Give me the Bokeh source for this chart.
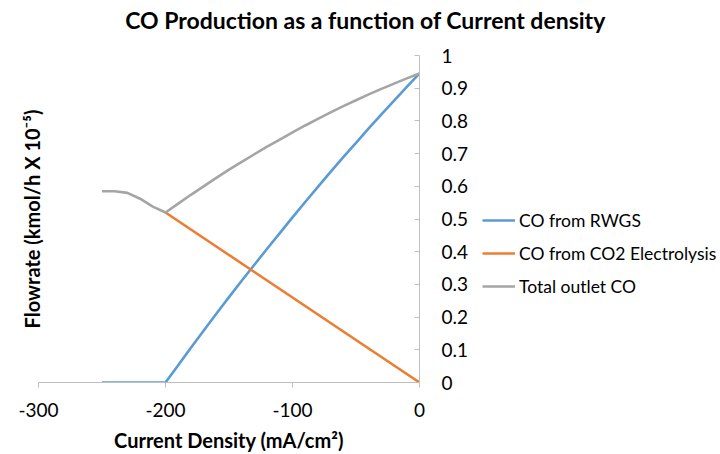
from bokeh.plotting import figure
from bokeh.layouts import column, row
from bokeh.models import (LinearAxis, FixedTicker, CustomJSTickFormatter, Legend,
                          LegendItem, Range1d, Label)
from bokeh.embed import file_html
from bokeh.resources import INLINE

# ---- data ----
current_density = [-250, -240, -230, -220, -210, -200, -190, -180, -170, -160, -150,
                   -140, -130, -120, -110, -100, -90, -80, -70, -60, -50, -40,
                   -30, -20, -10, 0]
co_rwgs = [0, 0, 0, 0, 0, 0, 0.053, 0.106, 0.158, 0.210, 0.261, 0.311, 0.360,
           0.409, 0.457, 0.505, 0.552, 0.598, 0.644, 0.689, 0.733, 0.777, 0.820,
           0.862, 0.904, 0.945]
electro_x = [-200, -190, -180, -170, -160, -150, -140, -130, -120, -110, -100,
             -90, -80, -70, -60, -50, -40, -30, -20, -10, 0]
co_electrolysis = [0.520, 0.494, 0.468, 0.442, 0.416, 0.390, 0.364, 0.338, 0.312,
                   0.286, 0.260, 0.234, 0.208, 0.182, 0.156, 0.130, 0.104, 0.078,
                   0.052, 0.026, 0.0]
co_total = [0.585, 0.585, 0.580, 0.562, 0.538, 0.520, 0.547, 0.574, 0.600, 0.626,
            0.651, 0.675, 0.698, 0.721, 0.743, 0.765, 0.786, 0.806, 0.826, 0.845,
            0.863, 0.881, 0.898, 0.914, 0.930, 0.945]
x_ticks = [-300, -200, -100, 0]
y_ticks = [0, 0.1, 0.2, 0.3, 0.4, 0.5, 0.6, 0.7, 0.8, 0.9, 1.0]
series_names = ["CO from RWGS", "CO from CO2 Electrolysis", "Total outlet CO"]
colors = ["#5B9BD5", "#ED7D31", "#A5A5A5"]
title_text = "CO Production as a function of Current density"

FONT = "Lato"
TXT = "#000000"
AX = "#BFBFBF"
LW = 2.6
TITLE_H = 45
MAIN_W = 471
MAIN_H = 454 - TITLE_H

# ---- title strip ----
tf = figure(width=720, height=TITLE_H, output_backend="svg", toolbar_location=None,
            x_range=Range1d(0, 1), y_range=Range1d(0, 1),
            x_axis_location=None, y_axis_location=None, min_border=0)
tf.outline_line_color = None
tf.grid.visible = False
tf.add_layout(Label(x=365, y=26, x_units="screen", y_units="screen", text=title_text,
                    text_font=FONT, text_font_size="23px", text_font_style="bold",
                    text_color=TXT, text_align="center", text_baseline="middle"))

# ---- main chart ----
p = figure(width=MAIN_W, height=MAIN_H, output_backend="svg", toolbar_location=None,
           x_range=Range1d(-300, 0), y_range=Range1d(0, 1),
           y_axis_location="right", min_border_left=38, min_border_top=10,
           min_border_right=MAIN_W - 38 - 381, min_border_bottom=69)
p.outline_line_color = None
p.grid.visible = False

series = [(current_density, co_rwgs), (electro_x, co_electrolysis),
          (current_density, co_total)]
for (xs, ys), c in zip(series, colors):
    p.line(xs, ys, line_color=c, line_width=LW)

xa = p.xaxis[0]
xa.ticker = FixedTicker(ticks=x_ticks)
xa.formatter = CustomJSTickFormatter(code="return String(tick)")
xa.axis_line_color = AX
xa.major_tick_line_color = AX
xa.major_tick_out = 5
xa.major_tick_in = 0
xa.minor_tick_line_color = None
xa.major_label_text_font = FONT
xa.major_label_text_font_size = "19px"
xa.major_label_text_color = TXT
xa.major_label_standoff = 15
xa.axis_label = "Current Density (mA/cm²)"
xa.axis_label_text_font = FONT
xa.axis_label_text_font_size = "20px"
xa.axis_label_text_font_style = "bold"
xa.axis_label_text_color = TXT
xa.axis_label_standoff = 8

ya = p.yaxis[0]
ya.ticker = FixedTicker(ticks=y_ticks)
ya.formatter = CustomJSTickFormatter(code="return String(Math.round(tick*10)/10)")
ya.axis_line_color = AX
ya.major_tick_line_color = AX
ya.major_tick_in = 5
ya.major_tick_out = 0
ya.minor_tick_line_color = None
ya.major_label_text_font = FONT
ya.major_label_text_font_size = "19px"
ya.major_label_text_color = TXT
ya.major_label_standoff = 22

left = LinearAxis(ticker=FixedTicker(ticks=[]), axis_line_color=None,
                  major_tick_line_color=None, minor_tick_line_color=None,
                  major_label_text_font_size="0px",
                  axis_label="Flowrate (kmol/h X 10⁻⁵)", axis_label_text_font=FONT,
                  axis_label_text_font_size="20px", axis_label_text_font_style="bold",
                  axis_label_text_color=TXT, axis_label_standoff=-5)
p.add_layout(left, "left")

# ---- legend strip: same series, drawn outside its view so only the key shows ----
lf = figure(width=720 - MAIN_W, height=MAIN_H, output_backend="svg",
            toolbar_location=None, x_range=Range1d(1, 2), y_range=Range1d(1, 2),
            x_axis_location=None, y_axis_location=None, min_border=0)
lf.outline_line_color = None
lf.grid.visible = False
keys = [lf.line(xs, ys, line_color=c, line_width=LW) for (xs, ys), c in zip(series, colors)]
legend = Legend(items=[LegendItem(label=n, renderers=[k]) for n, k in zip(series_names, keys)],
                location=(11, 84), label_text_font=FONT, label_text_font_size="17.5px",
                label_text_color=TXT, border_line_color=None, background_fill_alpha=0,
                glyph_width=33, glyph_height=24, label_standoff=4, spacing=9,
                padding=0, margin=0)
lf.add_layout(legend, "center")

layout = column(tf, row(p, lf))
open("out.html", "w").write(file_html(layout, INLINE))
